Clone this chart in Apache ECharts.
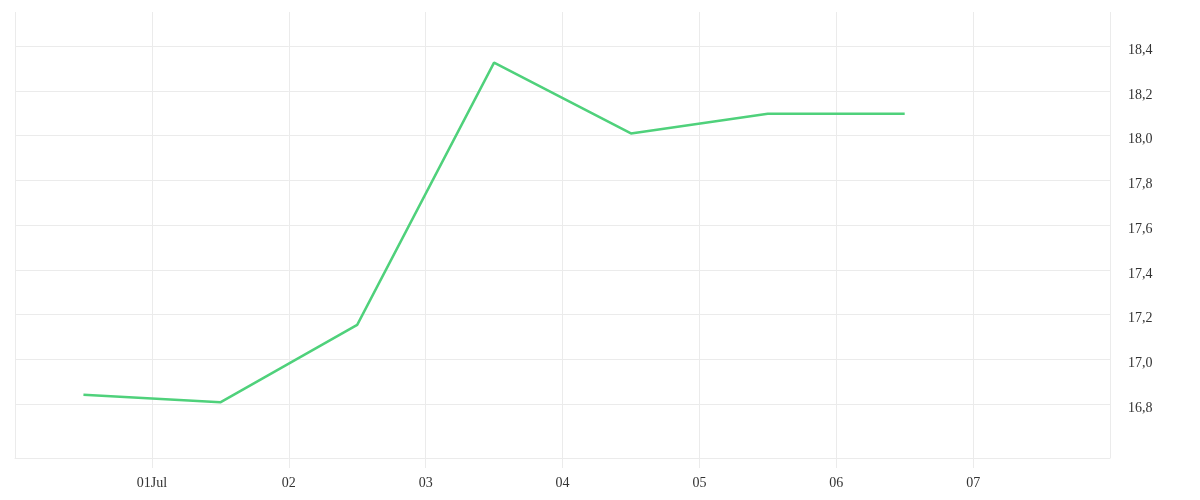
<!DOCTYPE html>
<html>
<head>
<meta charset="utf-8">
<script src="https://cdn.jsdelivr.net/npm/echarts@6/dist/echarts.min.js"></script>
<style>
html,body{margin:0;padding:0;background:#fff;}
#chart{width:1200px;height:500px;}
</style>
</head>
<body>
<div id="chart"></div>
<script>
// Data
const times = ['2024-06-30T12:00', '2024-07-01T12:00', '2024-07-02T12:00', '2024-07-03T12:00', '2024-07-04T12:00', '2024-07-05T12:00', '2024-07-06T12:00'];
const values = [16.842, 16.808, 17.154, 18.327, 18.010, 18.098, 18.098];
const yTicks = [16.8, 17.0, 17.2, 17.4, 17.6, 17.8, 18.0, 18.2, 18.4];
const xStart = '2024-06-30T00:00';
const xEnd = '2024-07-08T00:00';
const yMin = 16.559;
const yMax = 18.553;

function toUTC(s) {
  const [d, t] = s.split('T');
  const [Y, M, D] = d.split('-').map(Number);
  const [h, m] = t.split(':').map(Number);
  return Date.UTC(Y, M - 1, D, h, m);
}
const DAY = 86400000;
const MONTHS = ['Jan','Feb','Mar','Apr','May','Jun','Jul','Aug','Sep','Oct','Nov','Dec'];

const chart = echarts.init(document.getElementById('chart'), null, {renderer: 'canvas'});
const font = 'Liberation Serif';
chart.setOption({
  animation: false,
  backgroundColor: '#fff',
  grid: {left: 15, right: 90, top: 12, bottom: 42, containLabel: false},
  xAxis: {
    type: 'value',
    min: toUTC(xStart),
    max: toUTC(xEnd),
    interval: DAY,
    axisLine: {show: true, lineStyle: {color: '#ebebeb', width: 1}},
    axisTick: {show: true, length: 10, lineStyle: {color: '#ebebeb'}},
    splitLine: {show: true, lineStyle: {color: '#ebebeb', width: 1}},
    axisLabel: {
      showMinLabel: false,
      showMaxLabel: false,
      margin: 18,
      color: '#333',
      fontFamily: font,
      fontSize: 14,
      formatter: function (v) {
        const d = new Date(v);
        const day = d.getUTCDate();
        const dd = (day < 10 ? '0' : '') + day;
        return day === 1 ? dd + MONTHS[d.getUTCMonth()] : dd;
      }
    }
  },
  yAxis: {
    type: 'value',
    position: 'right',
    min: yMin,
    max: yMax,
    axisLine: {show: false},
    axisTick: {show: false, customValues: yTicks},
    splitLine: {show: true, lineStyle: {color: '#ebebeb', width: 1}},
    axisLabel: {
      customValues: yTicks,
      margin: 18,
      color: '#333',
      fontFamily: font,
      fontSize: 14,
      formatter: function (v) { return '{a|' + v.toFixed(1).replace('.', ',') + '}'; },
      rich: {
        a: {color: '#333', fontFamily: font, fontSize: 14, padding: [8, 0, 0, 0]}
      }
    }
  },
  series: [{
    type: 'line',
    data: times.map((t, i) => [toUTC(t), values[i]]),
    showSymbol: false,
    symbol: 'none',
    lineStyle: {color: '#4fd17b', width: 2.5},
    itemStyle: {color: '#4fd17b'}
  }]
});
</script>
</body>
</html>
